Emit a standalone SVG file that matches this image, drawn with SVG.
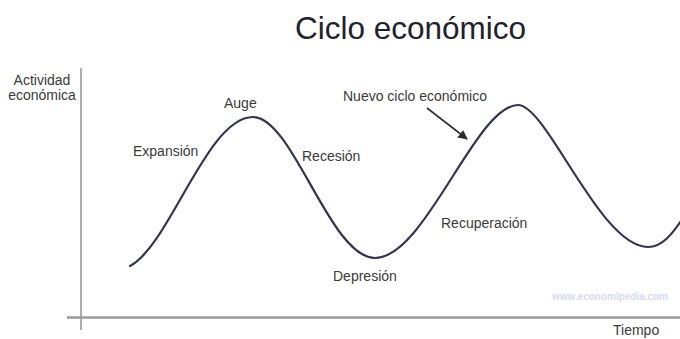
<svg xmlns="http://www.w3.org/2000/svg" width="680" height="339" viewBox="0 0 680 339">
<defs>
<style>
text{font-family:"Liberation Sans",Arial,sans-serif;fill:#3a3a3a;font-size:14px}
.title{font-size:31.5px;fill:#22222e}
.wm{font-size:10px;fill:#d8d8f4;font-weight:bold}
.axis{stroke:#9a9a9a;fill:none}
.curve{stroke:#34344e;stroke-width:2.2;fill:none;stroke-linecap:round}
.arrow{stroke:#2e2e2e;stroke-width:1.6;fill:none}
</style>
<marker id="ah" viewBox="0 0 10 10" refX="9" refY="5" markerWidth="6" markerHeight="6" orient="auto" markerUnits="strokeWidth">
<path d="M0,0 L10,5 L0,10 z" fill="#2e2e2e"/>
</marker>
</defs>
<rect width="680" height="339" fill="#ffffff"/>
<g id="title"><text class="title" x="295" y="39">Ciclo económico</text></g>
<g id="axes">
<line class="axis" x1="81" y1="68" x2="81" y2="330" stroke-width="1.6" stroke="#8a8a8a"/>
<line class="axis" x1="67" y1="317.5" x2="680" y2="317.5" stroke-width="2.6" stroke="#b4b4b4"/>
</g>
<g id="y-label"><text x="42" y="85" text-anchor="middle">Actividad</text><text x="42" y="100" text-anchor="middle">económica</text></g>
<g id="x-label"><text x="613" y="335">Tiempo</text></g>
<g id="connectors">
<path id="cycle-curve" class="curve" d="M130,266 C170,245 207,117 253,117 C293,117 330,258 375,258 C425,258 476,105 518,105 C547,105 600,247 648,247 C662,247 672,235 685,215"/>
<line class="arrow" x1="427" y1="108" x2="467" y2="139" marker-end="url(#ah)"/>
</g>
<g id="expansion"><text x="133" y="156">Expansión</text></g>
<g id="auge"><text x="224" y="108">Auge</text></g>
<g id="recesion"><text x="302" y="161">Recesión</text></g>
<g id="depresion"><text x="333" y="281">Depresión</text></g>
<g id="recuperacion"><text x="441" y="228">Recuperación</text></g>
<g id="nuevo-ciclo"><text x="343" y="101">Nuevo ciclo económico</text></g>
<g id="watermark"><text class="wm" x="552" y="300" textLength="116">www.economipedia.com</text></g>
</svg>
